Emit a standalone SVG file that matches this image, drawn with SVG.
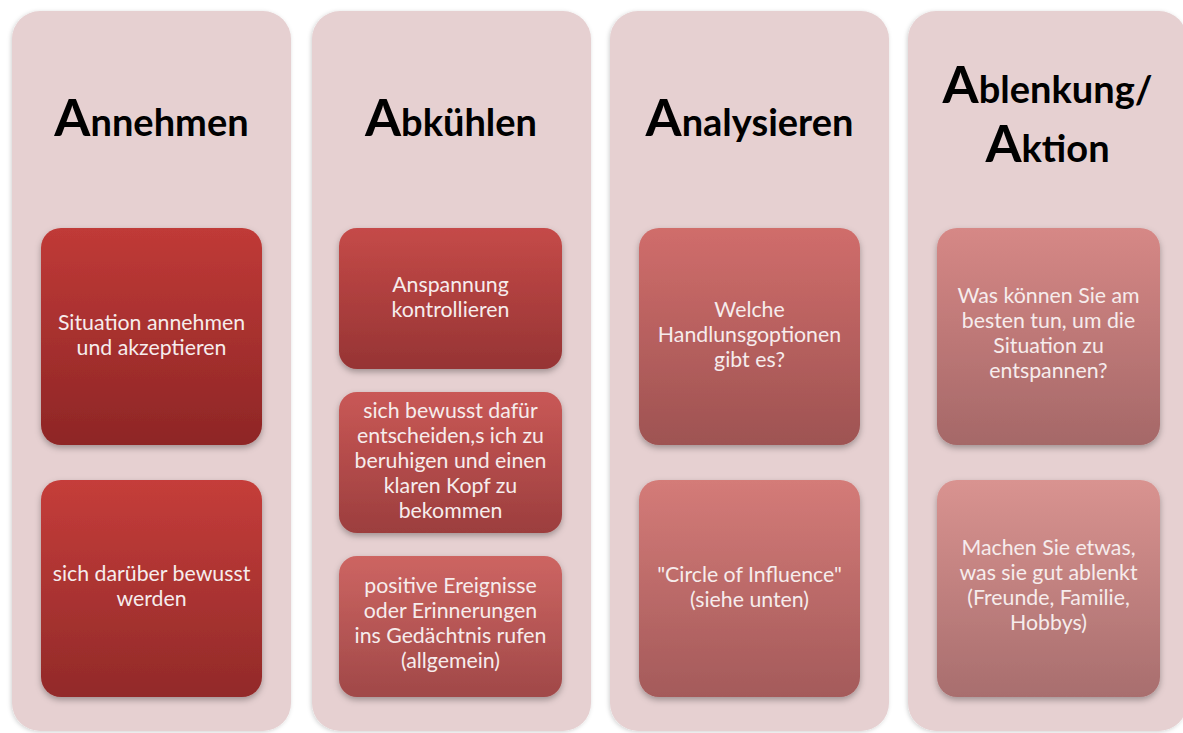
<svg xmlns="http://www.w3.org/2000/svg" width="1183" height="733" viewBox="0 0 1183 733">
<style>
.panel{fill:#e6d0d1;filter:url(#ps)}
.box{filter:url(#bs)}
.title{font-family:Lato,"Liberation Sans",sans-serif;font-weight:bold;font-size:38px;fill:#000;text-anchor:middle}
.big{font-size:52px}
.t{font-family:Lato,"Liberation Sans",sans-serif;font-size:21.3px;fill:#f6ecec;text-anchor:middle}
</style>
<defs>
<filter id="ps" x="-10%" y="-10%" width="120%" height="120%"><feDropShadow dx="-1" dy="1" stdDeviation="2" flood-color="#000" flood-opacity="0.18"/></filter>
<filter id="bs" x="-10%" y="-10%" width="120%" height="130%"><feDropShadow dx="0" dy="3" stdDeviation="3" flood-color="#000" flood-opacity="0.3"/></filter>
<linearGradient id="g11" x1="0" y1="0" x2="0" y2="1"><stop offset="0" stop-color="#c03a37"/><stop offset="1" stop-color="#8e2626"/></linearGradient>
<linearGradient id="g12" x1="0" y1="0" x2="0" y2="1"><stop offset="0" stop-color="#c53d3a"/><stop offset="1" stop-color="#922a29"/></linearGradient>
<linearGradient id="g21" x1="0" y1="0" x2="0" y2="1"><stop offset="0" stop-color="#c54a48"/><stop offset="1" stop-color="#963434"/></linearGradient>
<linearGradient id="g22" x1="0" y1="0" x2="0" y2="1"><stop offset="0" stop-color="#c95856"/><stop offset="1" stop-color="#9c3e3e"/></linearGradient>
<linearGradient id="g23" x1="0" y1="0" x2="0" y2="1"><stop offset="0" stop-color="#cd6562"/><stop offset="1" stop-color="#a04848"/></linearGradient>
<linearGradient id="g31" x1="0" y1="0" x2="0" y2="1"><stop offset="0" stop-color="#d06d6b"/><stop offset="1" stop-color="#9e5352"/></linearGradient>
<linearGradient id="g32" x1="0" y1="0" x2="0" y2="1"><stop offset="0" stop-color="#d47b78"/><stop offset="1" stop-color="#a45a5a"/></linearGradient>
<linearGradient id="g41" x1="0" y1="0" x2="0" y2="1"><stop offset="0" stop-color="#d68886"/><stop offset="1" stop-color="#a56868"/></linearGradient>
<linearGradient id="g42" x1="0" y1="0" x2="0" y2="1"><stop offset="0" stop-color="#d99390"/><stop offset="1" stop-color="#a86e6e"/></linearGradient>
</defs>
<rect width="1183" height="733" fill="#ffffff"/>

<g id="col1">
<rect class="panel" x="12" y="11" width="279" height="720" rx="28"/>
<text class="title" x="151.5" y="136"><tspan class="big">A</tspan>nnehmen</text>
</g>
<g id="col2">
<rect class="panel" x="312" y="11" width="279" height="720" rx="28"/>
<text class="title" x="451" y="136"><tspan class="big">A</tspan>bkühlen</text>
</g>
<g id="col3">
<rect class="panel" x="610" y="11" width="279" height="720" rx="28"/>
<text class="title" x="749.5" y="136"><tspan class="big">A</tspan>nalysieren</text>
</g>
<g id="col4">
<rect class="panel" x="908" y="11" width="279" height="720" rx="28"/>
<text class="title" x="1047.5" y="103"><tspan class="big">A</tspan>blenkung/</text>
<text class="title" x="1047.5" y="162"><tspan class="big">A</tspan>ktion</text>
</g>

<g id="connectors"></g>

<g id="n11">
<rect class="box" x="41" y="228" width="221" height="217" rx="20" fill="url(#g11)"/>
<text class="t" x="151.5" y="330">Situation annehmen</text>
<text class="t" x="151.5" y="355">und akzeptieren</text>
</g>
<g id="n12">
<rect class="box" x="41" y="480" width="221" height="217" rx="20" fill="url(#g12)"/>
<text class="t" x="151.5" y="581">sich darüber bewusst</text>
<text class="t" x="151.5" y="606">werden</text>
</g>

<g id="n21">
<rect class="box" x="339" y="228" width="223" height="141" rx="18" fill="url(#g21)"/>
<text class="t" x="450.5" y="292">Anspannung</text>
<text class="t" x="450.5" y="317">kontrollieren</text>
</g>
<g id="n22">
<rect class="box" x="339" y="392" width="223" height="141" rx="18" fill="url(#g22)"/>
<text class="t" x="450.5" y="418">sich bewusst dafür</text>
<text class="t" x="450.5" y="443">entscheiden,s ich zu</text>
<text class="t" x="450.5" y="468">beruhigen und einen</text>
<text class="t" x="450.5" y="493">klaren Kopf zu</text>
<text class="t" x="450.5" y="518">bekommen</text>
</g>
<g id="n23">
<rect class="box" x="339" y="556" width="223" height="141" rx="18" fill="url(#g23)"/>
<text class="t" x="450.5" y="593">positive Ereignisse</text>
<text class="t" x="450.5" y="618">oder Erinnerungen</text>
<text class="t" x="450.5" y="643">ins Gedächtnis rufen</text>
<text class="t" x="450.5" y="668">(allgemein)</text>
</g>

<g id="n31">
<rect class="box" x="639" y="228" width="221" height="217" rx="20" fill="url(#g31)"/>
<text class="t" x="749.5" y="317">Welche</text>
<text class="t" x="749.5" y="342">Handlunsgoptionen</text>
<text class="t" x="749.5" y="367">gibt es?</text>
</g>
<g id="n32">
<rect class="box" x="639" y="480" width="221" height="217" rx="20" fill="url(#g32)"/>
<text class="t" x="749.5" y="582">"Circle of Influence"</text>
<text class="t" x="749.5" y="607">(siehe unten)</text>
</g>

<g id="n41">
<rect class="box" x="937" y="228" width="223" height="217" rx="20" fill="url(#g41)"/>
<text class="t" x="1048.5" y="303">Was können Sie am</text>
<text class="t" x="1048.5" y="328">besten tun, um die</text>
<text class="t" x="1048.5" y="353">Situation zu</text>
<text class="t" x="1048.5" y="378">entspannen?</text>
</g>
<g id="n42">
<rect class="box" x="937" y="480" width="223" height="217" rx="20" fill="url(#g42)"/>
<text class="t" x="1048.5" y="555">Machen Sie etwas,</text>
<text class="t" x="1048.5" y="580">was sie gut ablenkt</text>
<text class="t" x="1048.5" y="605">(Freunde, Familie,</text>
<text class="t" x="1048.5" y="630">Hobbys)</text>
</g>
</svg>
